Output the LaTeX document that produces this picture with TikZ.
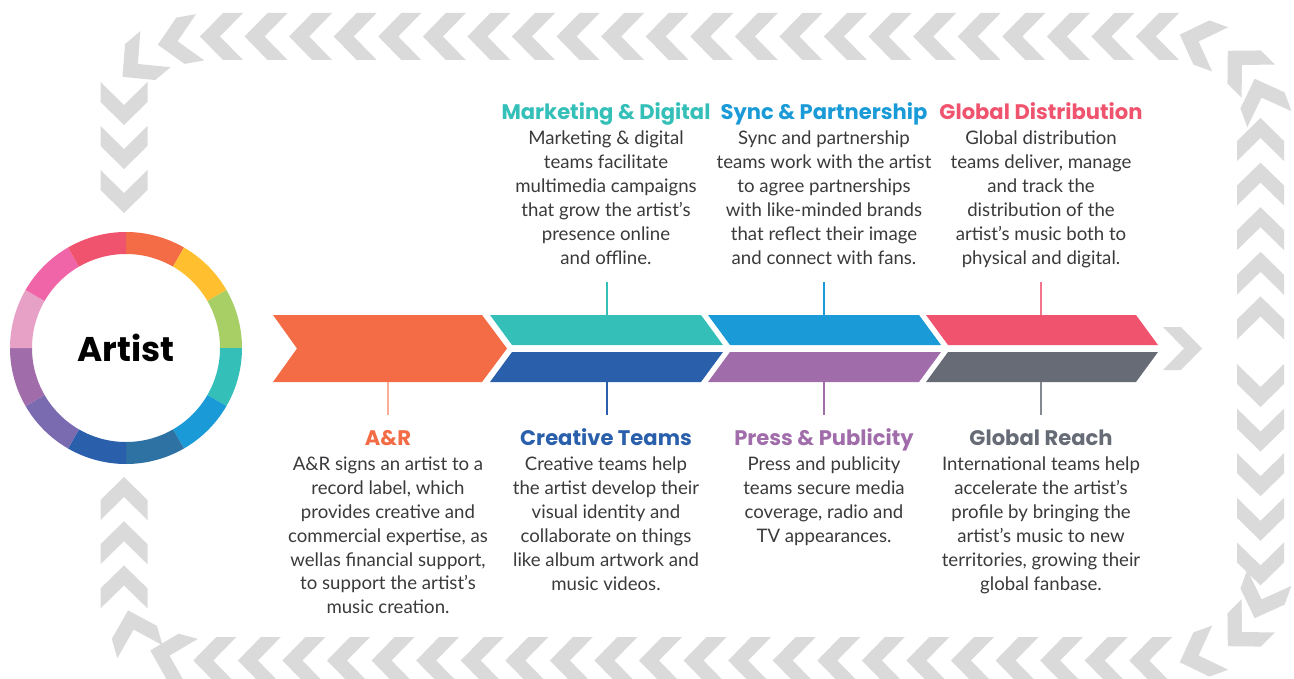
\documentclass[tikz,border=0pt]{standalone}
\usepackage{fontspec}
\setmainfont{Lato}
\newfontfamily\headfont{Poppins}
\usetikzlibrary{positioning}

\definecolor{chevgray}{HTML}{DADADA}
\definecolor{bodytext}{HTML}{3A3A3C}
\definecolor{arorange}{HTML}{F36C45}
\definecolor{mkteal}{HTML}{35BFB9}
\definecolor{crblue}{HTML}{2A5FAB}
\definecolor{syblue}{HTML}{1A9BD7}
\definecolor{prpurple}{HTML}{A06DAA}
\definecolor{gdred}{HTML}{F0536E}
\definecolor{grgray}{HTML}{666B76}
\definecolor{ringyellow}{HTML}{FFBF2E}
\definecolor{ringgreen}{HTML}{A8CF66}
\definecolor{ringsteel}{HTML}{2E72A3}
\definecolor{ringindigo}{HTML}{7A6BB0}
\definecolor{ringlpink}{HTML}{E8A1C6}
\definecolor{ringpink}{HTML}{F065A8}

% one grey chevron of the border: centre x, centre y, direction
\newcommand{\chev}[3]{\fill[chevgray, shift={({#1},{#2})}, rotate=#3]
  (21.5,0) -- (-1.5,23.5) -- (-21.5,23.5) -- (1.5,0) -- (-21.5,-23.5) -- (-1.5,-23.5) -- cycle;}

\begin{document}
\begin{tikzpicture}[x=0.02cm, y=-0.02cm,
    head/.style={font=\headfont\bfseries\fontsize{12}{14}\selectfont, inner sep=0pt, text height=0.75em, text depth=0.25em},
    body/.style={font=\fontsize{10.6}{13.6}\selectfont, text=bodytext, align=center, inner sep=0pt},
    tick/.style={line width=0.7pt}]
    \useasboundingbox (0,0) rectangle (1294,679);

    % Chevron border, top and bottom rows
    \foreach \k in {0,...,21} {
        \chev{221.5+44.57*\k}{36.5}{180}
        \chev{214.8+44.57*\k}{660.5}{180}
    }
    % right column
    \foreach \k in {0,...,4} {
        \chev{1260.5}{139.5+44.6*\k}{90}
        \chev{1260.5}{385.5+44.6*\k}{270}
    }
    % left column
    \foreach \k in {0,...,2} {
        \chev{124}{103.5+44*\k}{270}
        \chev{124}{498.5+44.2*\k}{90}
    }
    % corners
    \chev{1200}{42}{160}
    \chev{1243}{66}{135}
    \chev{1262}{99}{110}
    \chev{1262}{598}{250}
    \chev{1243}{631}{225}
    \chev{1200}{655}{200}
    \chev{179}{41}{190}
    \chev{139}{63}{220}
    \chev{134}{631}{106}
    \chev{171}{656}{165}

    % Ring round the artist
    \begin{scope}[shift={(126,348)}]
        \foreach \c [count=\i from 0] in {arorange,ringyellow,ringgreen,mkteal,syblue,ringsteel,crblue,ringindigo,prpurple,ringlpink,ringpink,gdred} {
            \pgfmathsetmacro{\a}{-90+30*\i}
            \fill[\c] (\a:116) arc[start angle=\a, end angle=\a+30, radius=116]
                -- ({\a+30}:94) arc[start angle=\a+30, end angle=\a, radius=94] -- cycle;
        }
    \end{scope}
    \node[font=\headfont\bfseries\fontsize{19.5}{22}\selectfont] (artist) at (126,348) {Artist};

    % Bands
    \fill[arorange] (273,315) -- (482,315) -- (507,348.5) -- (482,382) -- (273,382) -- (297,348.5) -- cycle;
    \fill[mkteal] (490,315) -- (701,315) -- (723,345) -- (512,345) -- cycle;
    \fill[crblue] (512,352) -- (723,352) -- (701,382) -- (490,382) -- cycle;
    \fill[syblue] (708,315) -- (919,315) -- (941,345) -- (730,345) -- cycle;
    \fill[prpurple] (730,352) -- (941,352) -- (919,382) -- (708,382) -- cycle;
    \fill[gdred] (926,315) -- (1136,315) -- (1158,345) -- (948,345) -- cycle;
    \fill[grgray] (948,352) -- (1158,352) -- (1136,382) -- (926,382) -- cycle;
    \fill[chevgray] (1163,327) -- (1181,327) -- (1202,348.5) -- (1181,370) -- (1163,370) -- (1184,348.5) -- cycle;

    % Ticks from bands to texts
    \coordinate (arBand) at (388,382);  \coordinate (arEnd) at (388,415);
    \coordinate (mkBand) at (607,315);  \coordinate (mkEnd) at (607,282);
    \coordinate (crBand) at (607,382);  \coordinate (crEnd) at (607,415);
    \coordinate (syBand) at (824,315);  \coordinate (syEnd) at (824,282);
    \coordinate (prBand) at (824,382);  \coordinate (prEnd) at (824,415);
    \coordinate (gdBand) at (1041,315); \coordinate (gdEnd) at (1041,282);
    \coordinate (grBand) at (1041,382); \coordinate (grEnd) at (1041,415);
    \draw[tick, arorange!55] (arBand) -- (arEnd);
    \draw[tick, mkteal] (mkBand) -- (mkEnd);
    \draw[tick, crblue] (crBand) -- (crEnd);
    \draw[tick, syblue] (syBand) -- (syEnd);
    \draw[tick, prpurple] (prBand) -- (prEnd);
    \draw[tick, gdred!80] (gdBand) -- (gdEnd);
    \draw[tick, grgray!80] (grBand) -- (grEnd);

    % Texts above the bands
    \node[head, text=mkteal] (mkh) at (606,115) {Marketing \& Digital};
    \node[body, below=3.6pt of mkh] (mkb) {Marketing \& digital\\teams facilitate\\multimedia campaigns\\that grow the artist’s\\presence online\\and offline.};
    \node[head, text=syblue] (syh) at (824,115) {Sync \& Partnership};
    \node[body, below=3.6pt of syh] (syb) {Sync and partnership\\teams work with the artist\\to agree partnerships\\with like-minded brands\\that reflect their image\\and connect with fans.};
    \node[head, text=gdred] (gdh) at (1041,115) {Global Distribution};
    \node[body, below=3.6pt of gdh] (gdb) {Global distribution\\teams deliver, manage\\and track the\\distribution of the\\artist’s music both to\\physical and digital.};

    % Texts below the bands
    \node[head, text=arorange] (arh) at (388,441) {A\&R};
    \node[body, below=3.6pt of arh] (arb) {A\&R signs an artist to a\\record label, which\\provides creative and\\commercial expertise, as\\wellas financial support,\\to support the artist’s\\music creation.};
    \node[head, text=crblue] (crh) at (606,441) {Creative Teams};
    \node[body, below=3.6pt of crh] (crb) {Creative teams help\\the artist develop their\\visual identity and\\collaborate on things\\like album artwork and\\music videos.};
    \node[head, text=prpurple] (prh) at (824,441) {Press \& Publicity};
    \node[body, below=3.6pt of prh] (prb) {Press and publicity\\teams secure media\\coverage, radio and\\TV appearances.};
    \node[head, text=grgray] (grh) at (1041,441) {Global Reach};
    \node[body, below=3.6pt of grh] (grb) {International teams help\\accelerate the artist’s\\profile by bringing the\\artist’s music to new\\territories, growing their\\global fanbase.};
\end{tikzpicture}
\end{document}
